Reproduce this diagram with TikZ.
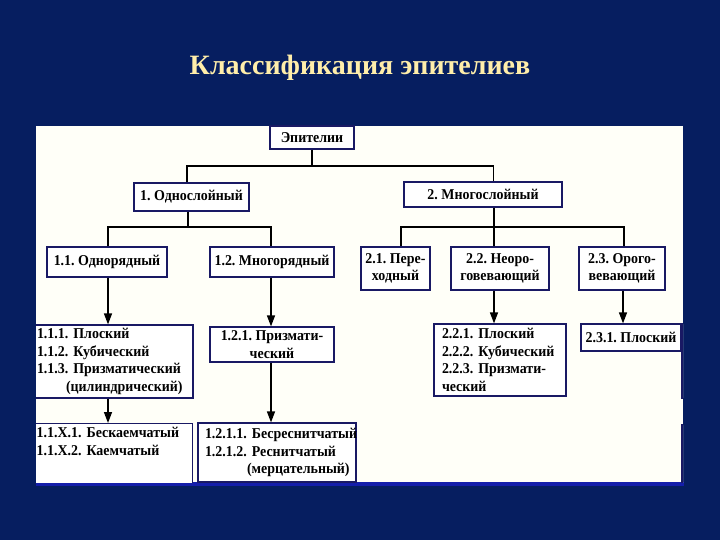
\documentclass[tikz,border=0pt]{standalone}
\usepackage{fontspec}
\setmainfont{Liberation Serif}
\newfontfamily\boxfont[FakeStretch=0.93]{Liberation Serif}
\usetikzlibrary{arrows.meta}
\definecolor{bg}{RGB}{6,30,96}
\definecolor{panel}{RGB}{255,255,248}
\definecolor{boxc}{RGB}{25,25,100}
\definecolor{titlec}{RGB}{255,238,170}
\definecolor{stripc}{RGB}{20,30,170}
\frenchspacing
\begin{document}
\begin{tikzpicture}[x=1pt,y=-1pt,
  box/.style={draw=boxc, line width=1.2pt, fill=white, inner sep=0pt,
    font=\boxfont\frenchspacing\fontsize{15}{17.5}\selectfont\bfseries, align=center},
  lbox/.style={box, align=left},
  conn/.style={line width=1.4pt, black},
  arr/.style={conn, -{Triangle[length=11pt,width=8pt]}}]
\useasboundingbox (0,0) rectangle (720,540);
\fill[bg] (0,0) rectangle (720,540);
\fill[panel] (36,126) rectangle (683,482);
\fill[stripc] (36,482) rectangle (684,486);
\node[font=\fontsize{28}{32}\selectfont\bfseries, text=titlec, anchor=base] (title) at (360,75) {Классификация эпителиев};
\begin{scope}
\clip (36,126) rectangle (683,482);
% level 0-2
\node[box, minimum width=84pt, minimum height=23pt] (ep) at (312,137.5) {Эпителии};
\node[box, minimum width=115pt, minimum height=28pt] (b1) at (191.5,197) {1. Однослойный};
\node[box, minimum width=158pt, minimum height=25pt] (b2) at (483,194.5) {2. Многослойный};
\node[box, minimum width=120pt, minimum height=30pt] (b11) at (107,262) {1.1. Однорядный};
\node[box, minimum width=124pt, minimum height=30pt] (b12) at (272,262) {1.2. Многорядный};
\node[box, minimum width=69pt, minimum height=43pt] (b21) at (395.5,268.5) {2.1. Пере-\\ходный};
\node[box, minimum width=98pt, minimum height=43pt] (b22) at (500,268.5) {2.2. Неоро-\\говевающий};
\node[box, minimum width=86pt, minimum height=43pt] (b23) at (622,268.5) {2.3. Орого-\\вевающий};
% level 3
\node[lbox, minimum height=73pt, inner xsep=2pt, text width=154pt] (b111) at (114,361.5)
  {\mbox{1.1.1. Плоский}\\\mbox{1.1.2. Кубический}\\\mbox{1.1.3. Призматический}\\\mbox{\hspace*{29pt}(цилиндрический)}};
\node[box, minimum width=124pt, minimum height=35pt] (b121) at (272,344.5) {1.2.1. Призмати-\\ческий};
\node[lbox, minimum height=72pt, inner xsep=8pt, text width=116pt] (b221) at (500,360)
  {\mbox{2.2.1. Плоский}\\\mbox{2.2.2. Кубический}\\\mbox{2.2.3. Призмати-}\\\mbox{ческий}};
\node[box, minimum width=100pt, minimum height=27pt] (b231) at (631,337.5) {2.3.1. Плоский};
\node[box, minimum width=20pt, minimum height=74pt] (r1) at (692,361) {};
% level 4
\node[lbox, anchor=north west, inner xsep=6pt, inner ysep=4pt, text width=150pt, text depth=70pt] (b11x) at (30,423)
  {\mbox{1.1.X.1. Бескаемчатый}\\\mbox{1.1.X.2. Каемчатый}};
\node[lbox, minimum height=59pt, inner xsep=7pt, text width=144pt] (b1211) at (277,452.5)
  {\mbox{1.2.1.1. Бесреснитчатый}\\\mbox{1.2.1.2. Реснитчатый}\\\mbox{\hspace*{42pt}(мерцательный)}};
\node[box, minimum width=20pt, minimum height=74pt] (r2) at (692,462) {};
% connectors
\coordinate (j0) at (312,166);
\coordinate (j1) at (188,227);
\coordinate (j2) at (494,227);
\draw[conn] (ep.south) -- (j0);
\draw[conn] ([xshift=-4.5pt]b1.north) |- (j0) -| ([xshift=10.5pt]b2.north);
\draw[conn] ([xshift=-3.5pt]b1.south) -- (j1);
\draw[conn] ([xshift=1pt]b11.north) |- (j1) -| ([xshift=-1pt]b12.north);
\draw[conn] ([xshift=11pt]b2.south) -- (j2);
\draw[conn] ([xshift=5.5pt]b21.north) |- (j2) -| ([xshift=2pt]b23.north);
\draw[conn] ([xshift=-6pt]b22.north) -- (j2);
% arrows
\draw[arr] ([xshift=1pt]b11.south) -- ([xshift=1pt]b11.south |- b111.north);
\draw[arr] ([xshift=-1pt]b12.south) -- ([xshift=-1pt]b12.south |- b121.north);
\draw[arr] ([xshift=-6pt]b111.south) -- ([xshift=-6pt]b111.south |- b11x.north);
\draw[arr] ([xshift=-1pt]b121.south) -- ([xshift=-1pt]b121.south |- b1211.north);
\draw[arr] ([xshift=-6pt]b22.south) -- ([xshift=-6pt]b22.south |- b221.north);
\draw[arr] ([xshift=1pt]b23.south) -- ([xshift=1pt]b23.south |- b231.north);
\end{scope}
\end{tikzpicture}
\end{document}
